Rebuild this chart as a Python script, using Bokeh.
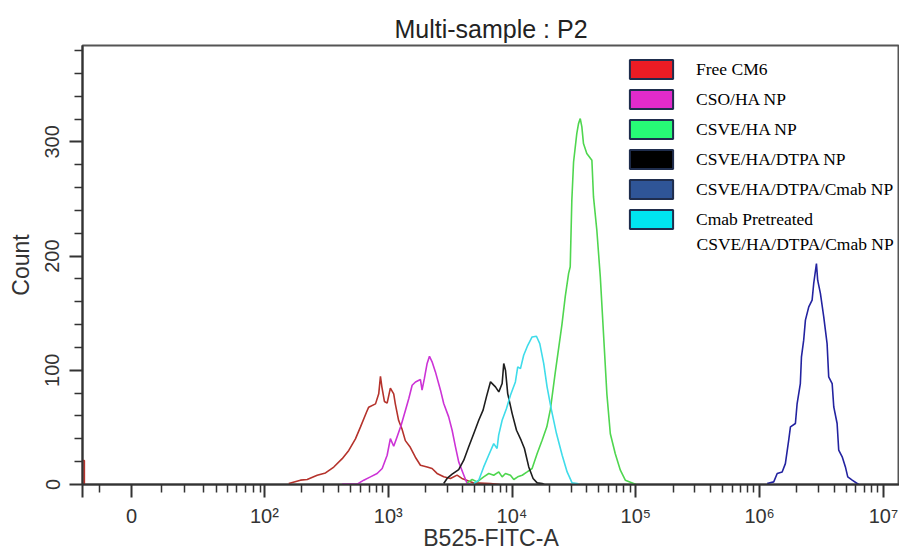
from bokeh.plotting import figure
from bokeh.models import (FixedTicker, Range1d, Legend, LegendItem, Label)
from bokeh.embed import file_html
from bokeh.resources import INLINE
import math

NaN = float("nan")

# ---------------- data (x = log10 of B525-FITC-A intensity, y = count) ----------------
free_cm6_x = [0.53, 0.53, 0.545, 0.545, NaN, 2.196, 2.291, 2.345, 2.426, 2.493, 2.560, 2.628, 2.681,
              2.735, 2.775, 2.824, 2.842, 2.897, 2.923, 2.937, 2.948, 2.969, 2.991, 3.017,
              3.044, 3.057, 3.084, 3.111, 3.138, 3.178, 3.219, 3.260, 3.314, 3.354, 3.394,
              3.448, 3.502, 3.556, 3.595, 3.691, 3.826, 3.9]
free_cm6_count = [0, 21, 21, 0, NaN, 0.9, 3.8, 4.4, 8.1, 10.1, 15.3, 22.6, 29.8,
                  40.0, 50.2, 63.3, 67.7, 70.6, 79.4, 94.8, 85.8, 72.7, 71.3, 84.4,
                  79.4, 70.6, 56.0, 48.6, 38.4, 32.6, 23.9, 16.9, 15.4, 14.0, 9.7,
                  6.8, 5.3, 8.2, 5.3, 1.4, 0.9, 0]

cso_ha_x = [2.628, 2.749, 2.802, 2.856, 2.910, 2.951, 2.991, 3.017, 3.044, 3.071, 3.104,
            3.139, 3.166, 3.193, 3.220, 3.260, 3.273, 3.292, 3.314, 3.333, 3.354, 3.381,
            3.422, 3.448, 3.488, 3.516, 3.543, 3.569, 3.605, 3.637, 3.663]
cso_ha_count = [0.3, 0.3, 3.8, 6.7, 9.6, 14.0, 25.6, 40.2, 33.5, 41.6, 51.9,
                65.0, 75.3, 86.9, 89.8, 91.9, 82.6, 92.9, 106.0, 112.3, 107.4, 98.6,
                82.6, 70.9, 59.2, 47.5, 32.9, 19.8, 9.7, 0.9, 0]

csve_ha_x = [3.637, 3.678, 3.718, 3.771, 3.812, 3.852, 3.893, 3.920, 3.947, 3.987, 4.014,
             4.046, 4.082, 4.122, 4.162, 4.203, 4.243, 4.281, 4.310, 4.349, 4.403, 4.430,
             4.457, 4.470, 4.483, 4.497, 4.523, 4.537, 4.551, 4.564, 4.577, 4.604, 4.645,
             4.658, 4.685, 4.713, 4.739, 4.766, 4.794, 4.834, 4.875, 4.915, 4.982, 5.0]
csve_ha_count = [1.4, 4.4, 2.3, 6.7, 9.6, 8.1, 11.0, 6.7, 9.6, 8.1, 4.4,
                 6.7, 8.1, 11.0, 14.0, 27.1, 38.8, 50.5, 66.0, 98.0, 140.0, 164.7,
                 184.9, 190.7, 248.9, 282.4, 307.3, 316.0, 320.4, 313.1, 298.5, 289.8, 283.9,
                 251.8, 222.6, 181.8, 131.8, 79.4, 44.4, 26.9, 12.5, 3.8, 0.9, 0]

csve_ha_dtpa_x = [3.448, 3.475, 3.516, 3.569, 3.610, 3.650, 3.691, 3.731, 3.766, 3.793,
                  3.826, 3.866, 3.893, 3.920, 3.933, 3.947, 3.965, 4.001, 4.036, 4.073,
                  4.100, 4.135, 4.170, 4.203, 4.243, 4.26]
csve_ha_dtpa_count = [0.9, 5.3, 9.0, 13.1, 21.3, 33.0, 44.6, 56.3, 65.1, 76.7,
                      89.9, 85.5, 81.1, 88.4, 105.9, 100.1, 79.6, 62.1, 47.5, 38.8,
                      31.5, 15.4, 5.3, 1.4, 0.9, 0]

csve_ha_dtpa_cmab_x = [6.061, 6.114, 6.142, 6.182, 6.208, 6.235, 6.249, 6.289, 6.303, 6.329,
                       6.338, 6.356, 6.370, 6.397, 6.424, 6.437, 6.459, 6.469, 6.491, 6.518,
                       6.545, 6.558, 6.586, 6.599, 6.626, 6.639, 6.667, 6.693, 6.712, 6.748,
                       6.788, 6.80]
csve_ha_dtpa_cmab_count = [0.9, 2.3, 9.6, 11.0, 18.3, 38.8, 50.5, 53.4, 70.9, 88.4,
                           111.8, 126.4, 143.9, 155.5, 161.4, 176.0, 193.5, 178.9, 167.3, 146.8,
                           123.4, 94.3, 88.4, 67.9, 53.4, 30.0, 24.2, 15.4, 6.7, 3.8,
                           0.9, 0]

cmab_pre_x = [3.691, 3.731, 3.771, 3.811, 3.852, 3.879, 3.892, 3.920, 3.955, 3.987, 4.027,
              4.046, 4.068, 4.094, 4.127, 4.162, 4.197, 4.224, 4.256, 4.283, 4.316, 4.359,
              4.405, 4.445, 4.485, 4.526, 4.54]
cmab_pre_count = [0.9, 3.8, 15.4, 25.6, 35.8, 31.5, 43.2, 56.3, 66.5, 78.2, 89.8,
                  103.0, 101.5, 113.2, 121.9, 129.2, 129.8, 123.4, 105.9, 85.5, 66.5, 44.6,
                  25.6, 11.0, 1.4, 0.9, 0]

series_labels = ["Free CM6", "CSO/HA NP", "CSVE/HA NP", "CSVE/HA/DTPA NP",
                 "CSVE/HA/DTPA/Cmab NP", "Cmab Pretreated"]
last_label_line2 = "CSVE/HA/DTPA/Cmab NP"
line_colors = ["#b5332c", "#cc33d6", "#4fd64f", "#1e1e1e", "#2323a0", "#3fdcea"]
legend_colors = ["#ec1c24", "#e22bcb", "#27fb76", "#000000", "#2f5597", "#00e5f0"]

# x-axis ticks (log10 units; "0" and the negative edge of the biexponential scale)
major_tick_pos = [0.53, 0.926, 2, 3, 4, 5, 6, 7]
major_tick_text = ["", "0", "10\u00b2", "10\u00b3", "10\u2074", "10\u2075", "10\u2076", "10\u2077"]
low_minor_pos = [0.667, 1.168, 1.354, 1.507, 1.612, 1.701, 1.774, 1.847, 1.911, 1.968]
decade_steps = [2, 3, 4, 5, 6, 7, 8, 9]

y_major = [0, 100, 200, 300]
y_minor = [20, 40, 60, 80, 120, 140, 160, 180, 220, 240, 260, 280, 320, 340, 360, 380]

# ---------------- figure ----------------
log_minor = [d + math.log10(k) for d in range(2, 7) for k in decade_steps]

p = figure(width=899, height=553, output_backend="svg", toolbar_location=None,
           x_range=Range1d(0.53, 7.13), y_range=Range1d(0, 384.4),
           min_border_left=82, min_border_right=0, min_border_top=45, min_border_bottom=69,
           title="Multi-sample : P2")
p.background_fill_color = "white"
p.border_fill_color = "white"
p.xgrid.visible = False
p.ygrid.visible = False
p.outline_line_color = "#555555"
p.outline_line_width = 2

p.title.align = "center"
p.title.text_font = "Liberation Sans"
p.title.text_font_size = "25px"
p.title.text_font_style = "normal"
p.title.text_color = "#222222"
p.title.standoff = 6

xs = [free_cm6_x, cso_ha_x, csve_ha_x, csve_ha_dtpa_x, csve_ha_dtpa_cmab_x, cmab_pre_x]
ys = [free_cm6_count, cso_ha_count, csve_ha_count, csve_ha_dtpa_count,
      csve_ha_dtpa_cmab_count, cmab_pre_count]

for x, y, c in zip(xs, ys, line_colors):
    p.line(x, y, line_color=c, line_width=1.6)

items = []
for lab, fc in zip(series_labels, legend_colors):
    r = p.quad(left=[NaN], right=[NaN], top=[NaN], bottom=[NaN], fill_color=fc,
               line_color="#1f2d4d", line_width=2)
    items.append(LegendItem(label=lab, renderers=[r]))

legend = Legend(items=items, location=(542, 253), padding=0, spacing=6,
                glyph_width=54, glyph_height=24, label_height=19, label_standoff=18,
                label_text_font="Liberation Serif", label_text_font_size="17.5px",
                label_text_color="black", border_line_color=None,
                background_fill_alpha=0)
p.add_layout(legend, "center")

# second line of the last legend entry
p.add_layout(Label(x=614, y=241, x_units="screen", y_units="screen", text=last_label_line2,
                   text_font="Liberation Serif", text_font_size="17.5px", text_color="black",
                   text_align="left", text_baseline="middle"))

# axes
xa = p.xaxis[0]
xa.ticker = FixedTicker(ticks=major_tick_pos, minor_ticks=low_minor_pos + log_minor)
xa.major_label_overrides = dict(zip(major_tick_pos, major_tick_text))
xa.axis_label = "B525-FITC-A"
ya = p.yaxis[0]
ya.ticker = FixedTicker(ticks=y_major, minor_ticks=y_minor)
ya.major_label_orientation = "vertical"
ya.axis_label = "Count"

for ax in (xa, ya):
    ax.axis_line_color = "#333333"
    ax.axis_line_width = 2
    ax.major_tick_line_color = "#333333"
    ax.minor_tick_line_color = "#333333"
    ax.major_tick_line_width = 2
    ax.minor_tick_line_width = 1.5
    ax.major_tick_in = 0
    ax.minor_tick_in = 0
    ax.major_tick_out = 13
    ax.minor_tick_out = 8
    ax.major_label_text_font = "Liberation Sans"
    ax.major_label_text_font_size = "20px"
    ax.major_label_text_color = "#333333"
    ax.axis_label_text_font = "Liberation Sans"
    ax.axis_label_text_font_size = "23px"
    ax.axis_label_text_font_style = "normal"
    ax.axis_label_text_color = "#333333"
xa.major_label_standoff = 7
xa.axis_label_standoff = -5
ya.major_label_standoff = 10
ya.axis_label_standoff = 9

open("out.html", "w").write(file_html(p, INLINE))
